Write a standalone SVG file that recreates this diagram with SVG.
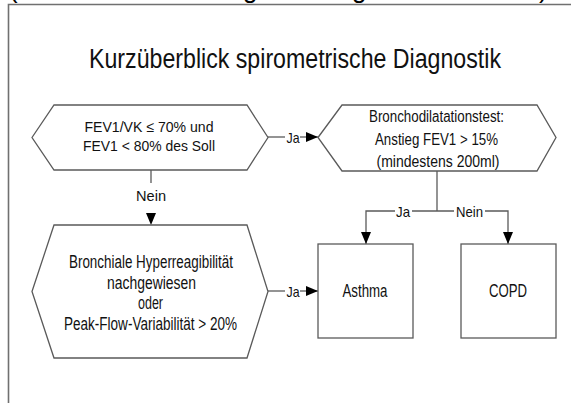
<svg xmlns="http://www.w3.org/2000/svg" width="571" height="403" viewBox="0 0 571 403">
<style>
text{font-family:"Liberation Sans",Arial,sans-serif;fill:#111}
.shape{fill:#fff;stroke:#5a5a5a;stroke-width:1.3}
.line{fill:none;stroke:#5a5a5a;stroke-width:1.3}
.frame{fill:none;stroke:#707070;stroke-width:1.6}
.n{text-anchor:middle}
.lbl{font-size:15px;text-anchor:middle}
.cut{font-size:26px;fill:#000}
</style>
<defs>
<marker id="ah" viewBox="0 0 12 10" refX="12" refY="5" markerWidth="12" markerHeight="10" markerUnits="userSpaceOnUse" orient="auto">
<path d="M0,0 L12,5 L0,10 Z" fill="#000"/>
</marker>
</defs>
<rect width="571" height="403" fill="#fff"/>
<g id="cutoff">
<text class="cut" x="9" y="-2">(</text>
<text class="cut" x="243" y="-2">g</text>
<text class="cut" x="352" y="-2">g</text>
<text class="cut" x="539" y="-2">)</text>
</g>
<polyline class="frame" points="8.5,403 8.5,4.5 571,4.5"/>
<g id="title">
<text x="89" y="68" font-size="27" textLength="412" lengthAdjust="spacingAndGlyphs" fill="#111">Kurzüberblick spirometrische Diagnostik</text>
</g>
<g id="connectors">
<line class="line" x1="268" y1="137" x2="285" y2="137"/>
<line class="line" x1="300" y1="137" x2="318" y2="137" marker-end="url(#ah)"/>
<text class="lbl" x="293" y="142.5" textLength="13" lengthAdjust="spacingAndGlyphs">Ja</text>
<line class="line" x1="151" y1="170" x2="151" y2="183"/>
<text class="lbl" x="151" y="200.5" textLength="30" lengthAdjust="spacingAndGlyphs">Nein</text>
<line class="line" x1="151" y1="205" x2="151" y2="225" marker-end="url(#ah)" stroke-opacity="0"/>
<line class="line" x1="268" y1="291" x2="285" y2="291"/>
<line class="line" x1="300" y1="291" x2="318" y2="291" marker-end="url(#ah)"/>
<text class="lbl" x="293" y="296.5" textLength="13" lengthAdjust="spacingAndGlyphs">Ja</text>
<line class="line" x1="437" y1="171" x2="437" y2="211"/>
<polyline class="line" points="395,211 366,211 366,244" marker-end="url(#ah)"/>
<line class="line" x1="412" y1="211" x2="454" y2="211"/>
<polyline class="line" points="485,211 508,211 508,244" marker-end="url(#ah)"/>
<text class="lbl" x="403" y="216.5" textLength="14" lengthAdjust="spacingAndGlyphs">Ja</text>
<text class="lbl" x="469.5" y="216.5" textLength="27" lengthAdjust="spacingAndGlyphs">Nein</text>
</g>
<g id="node-fev1">
<polygon class="shape" points="32,137.5 54,105 247,105 268,137.5 247,170 54,170"/>
<text class="n" x="149" y="132" font-size="15" textLength="129" lengthAdjust="spacingAndGlyphs">FEV1/VK ≤ 70% und</text>
<text class="n" x="149" y="151" font-size="15" textLength="132" lengthAdjust="spacingAndGlyphs">FEV1 &lt; 80% des Soll</text>
</g>
<g id="node-broncho">
<polygon class="shape" points="318,137.5 342,105 537,105 556,137.5 537,171 342,171"/>
<text class="n" x="436.5" y="121.5" font-size="16" textLength="135" lengthAdjust="spacingAndGlyphs">Bronchodilatationstest:</text>
<text class="n" x="436.5" y="144.5" font-size="16" textLength="123" lengthAdjust="spacingAndGlyphs">Anstieg FEV1 &gt; 15%</text>
<text class="n" x="438" y="166.5" font-size="16" textLength="123" lengthAdjust="spacingAndGlyphs">(mindestens 200ml)</text>
</g>
<g id="node-hyper">
<polygon class="shape" points="32,291.5 54,225 247,225 268,291.5 247,358 54,358"/>
<text class="n" x="151" y="267.5" font-size="17.5" textLength="164" lengthAdjust="spacingAndGlyphs">Bronchiale Hyperreagibilität</text>
<text class="n" x="151.5" y="289" font-size="17.5" textLength="89" lengthAdjust="spacingAndGlyphs">nachgewiesen</text>
<text class="n" x="150.5" y="308.5" font-size="17.5" textLength="25" lengthAdjust="spacingAndGlyphs">oder</text>
<text class="n" x="150.5" y="330" font-size="17.5" textLength="173" lengthAdjust="spacingAndGlyphs">Peak-Flow-Variabilität &gt; 20%</text>
</g>
<g id="node-asthma">
<rect class="shape" x="318" y="244" width="95" height="94"/>
<text class="n" x="365" y="297" font-size="17.5" textLength="45" lengthAdjust="spacingAndGlyphs">Asthma</text>
</g>
<g id="node-copd">
<rect class="shape" x="461" y="244" width="95" height="94"/>
<text class="n" x="508" y="297" font-size="17.5" textLength="38" lengthAdjust="spacingAndGlyphs">COPD</text>
</g>
</svg>
